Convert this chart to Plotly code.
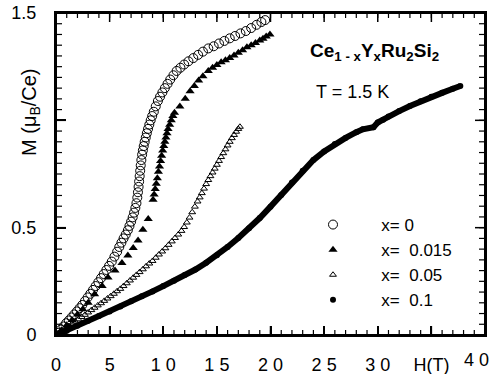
import plotly.graph_objects as go

# ---- data ----
h_x0 = [0.0, 0.2, 0.45, 0.7, 0.95, 1.2, 1.45, 1.7, 1.95, 2.2, 2.45, 2.7, 2.95, 3.2, 3.45, 3.7, 3.95, 4.2, 4.45,
        4.7, 4.95, 5.2, 5.45, 5.7, 5.9, 6.1, 6.3, 6.5, 6.7, 6.85, 7.0, 7.15, 7.28, 7.4, 7.5, 7.58, 7.64, 7.7, 7.75,
        7.8, 7.85, 7.9, 7.96, 8.03, 8.1, 8.18, 8.27, 8.37, 8.47, 8.58, 8.7, 8.83, 8.97, 9.12, 9.3, 9.5, 9.7, 9.92,
        10.15, 10.4, 10.65, 10.95, 11.25, 11.6, 11.95, 12.35, 12.8, 13.25, 13.7, 14.2, 14.7, 15.2, 15.7, 16.2,
        16.7, 17.2, 17.7, 18.2, 18.7, 19.15, 19.5]
m_x0 = [0.0, 0.01, 0.025, 0.04, 0.055, 0.068, 0.082, 0.096, 0.11, 0.125, 0.14, 0.158, 0.175, 0.192, 0.21, 0.228,
        0.246, 0.265, 0.284, 0.303, 0.322, 0.342, 0.365, 0.388, 0.41, 0.43, 0.45, 0.468, 0.488, 0.508, 0.528,
        0.548, 0.57, 0.592, 0.614, 0.64, 0.665, 0.69, 0.715, 0.74, 0.765, 0.79, 0.815, 0.84, 0.86, 0.88, 0.9,
        0.92, 0.94, 0.96, 0.98, 1.0, 1.02, 1.04, 1.065, 1.09, 1.11, 1.13, 1.15, 1.17, 1.19, 1.21, 1.23, 1.245,
        1.26, 1.275, 1.29, 1.305, 1.32, 1.335, 1.345, 1.358, 1.37, 1.382, 1.393, 1.405, 1.416, 1.43, 1.445,
        1.458, 1.467]

h_x015 = [0.0, 0.5, 1.0, 1.5, 2.0, 2.5, 3.0, 3.6, 4.3, 4.85, 5.5, 6.15, 6.7, 7.2, 7.65, 8.1, 8.6, 9.05, 9.15,
          9.25, 9.35, 9.45, 9.55, 9.65, 9.75, 9.85, 9.95, 10.05, 10.15, 10.25, 10.35, 10.45, 10.6, 10.75, 10.9,
          11.05, 11.55, 12.05, 12.5, 12.9, 13.3, 13.7, 14.2, 14.6, 15.0, 15.4, 15.8, 16.2, 16.6, 17.0, 17.4,
          17.8, 18.2, 18.6, 19.0, 19.3, 19.6, 19.95]
m_x015 = [0.0, 0.022, 0.045, 0.07, 0.095, 0.12, 0.15, 0.19, 0.228, 0.268, 0.3, 0.335, 0.37, 0.405, 0.44, 0.49,
          0.54, 0.63, 0.655, 0.68, 0.705, 0.73, 0.76, 0.785, 0.81, 0.835, 0.86, 0.88, 0.9, 0.92, 0.94, 0.96,
          0.98, 1.0, 1.02, 1.035, 1.065, 1.10, 1.135, 1.16, 1.185, 1.205, 1.23, 1.245, 1.258, 1.27, 1.28, 1.29,
          1.302, 1.315, 1.327, 1.34, 1.35, 1.36, 1.372, 1.38, 1.39, 1.40]

h_x05 = [0.0, 0.3, 0.6, 0.9, 1.2, 1.5, 1.8, 2.1, 2.4, 2.7, 3.0, 3.3, 3.6, 3.9, 4.2, 4.5, 4.8, 5.1, 5.4, 5.7,
         6.0, 6.3, 6.6, 6.9, 7.2, 7.5, 7.8, 8.1, 8.4, 8.7, 9.0, 9.3, 9.6, 9.9, 10.2, 10.5, 10.8, 11.1, 11.4,
         11.7, 11.95, 12.2, 12.45, 12.7, 12.95, 13.2, 13.4, 13.6, 13.8, 14.0, 14.2, 14.4, 14.6, 14.8, 15.0,
         15.2, 15.4, 15.6, 15.8, 16.0, 16.2, 16.4, 16.6, 16.8, 17.0, 17.15]
m_x05 = [0.0, 0.01, 0.021, 0.031, 0.042, 0.052, 0.063, 0.073, 0.084, 0.094, 0.105, 0.116, 0.127, 0.138, 0.148,
         0.159, 0.17, 0.181, 0.192, 0.204, 0.215, 0.228, 0.241, 0.254, 0.267, 0.28, 0.293, 0.306, 0.32, 0.333,
         0.345, 0.36, 0.375, 0.389, 0.404, 0.42, 0.436, 0.452, 0.468, 0.485, 0.503, 0.524, 0.547, 0.572, 0.598,
         0.622, 0.641, 0.661, 0.682, 0.703, 0.722, 0.74, 0.757, 0.775, 0.793, 0.811, 0.829, 0.847, 0.865, 0.883,
         0.9, 0.917, 0.932, 0.947, 0.96, 0.97]

h_x1 = [0, 1, 2, 3, 4, 5, 6, 7, 8, 9, 10, 11, 12, 13, 14, 15, 16, 17, 18, 19, 20, 21, 22, 23, 24, 25, 26, 27,
        28, 28.6, 29.6, 30.0, 30.5, 31, 32, 33, 34, 35, 36, 37, 37.7]
m_x1 = [0.0, 0.02, 0.043, 0.066, 0.088, 0.11, 0.133, 0.157, 0.18, 0.203, 0.228, 0.253, 0.28, 0.305, 0.337,
        0.372, 0.41, 0.452, 0.497, 0.545, 0.598, 0.652, 0.71, 0.765, 0.815, 0.855, 0.89, 0.918, 0.945, 0.958,
        0.968, 0.99, 1.003, 1.018, 1.043, 1.067, 1.089, 1.11, 1.128, 1.147, 1.16]

NB = "\u00a0"
series_names = ["x=" + NB + "0", "x=" + NB * 2 + "0.015", "x=" + NB * 2 + "0.05", "x=" + NB * 2 + "0.1"]
x_tickvals = [0, 5, 10, 15, 20, 25, 30, 35, 40]
x_ticktext = ["0", "5", "1" + NB + "0", "1" + NB + "5", "2" + NB + "0", "2" + NB + "5", "3" + NB + "0",
              "H(T)", ""]
x_last_label = "4" + NB + "0"
y_tickvals = [0, 0.5, 1.0, 1.5]
y_ticktext = ["0", "0.5", "", "1.5"]
x_range = [0, 40]
y_range = [0, 1.5]
x_minor_step = 1
y_minor_step = 0.05

FONT = "Liberation Sans, Arial, sans-serif"
L, R, T, B = 56, 9, 13, 39
PW, PH = 494 - L - R, 374 - T - B


def px(xp):
    return (xp - L) / PW


def py(yp):
    return (374 - B - yp) / PH


pad = NB * 6
x_minor = [x_range[0] + i * x_minor_step
           for i in range(int(round((x_range[1] - x_range[0]) / x_minor_step)) + 1)]
y_minor = [round(y_range[0] + i * y_minor_step, 4)
           for i in range(int(round((y_range[1] - y_range[0]) / y_minor_step)) + 1)]

fig = go.Figure()

# data series
fig.add_trace(go.Scatter(x=h_x0, y=m_x0, mode="markers", name=pad + series_names[0],
                         marker=dict(symbol="circle-open", size=9, color="black", line=dict(width=1))))
fig.add_trace(go.Scatter(x=h_x015, y=m_x015, mode="markers", name=pad + series_names[1],
                         marker=dict(symbol="triangle-up", size=8, color="black")))
fig.add_trace(go.Scatter(x=h_x05, y=m_x05, mode="markers", name=pad + series_names[2],
                         marker=dict(symbol="triangle-up-open", size=6, color="black", line=dict(width=1))))
fig.add_trace(go.Scatter(x=h_x1, y=m_x1, mode="lines", showlegend=False,
                         line=dict(color="black", width=6)))
fig.add_trace(go.Scatter(x=h_x1, y=m_x1, mode="markers", name=pad + series_names[3],
                         marker=dict(symbol="circle", size=6, color="black")))

# frame: filled thin rectangles anchored on the axis ranges (pixel thickness)
shapes = []
for yv in y_range:
    shapes.append(dict(type="rect", xref="x", yref="y", x0=x_range[0], x1=x_range[1],
                       ysizemode="pixel", yanchor=yv, y0=-1, y1=1,
                       fillcolor="black", line=dict(width=0)))
for xv in x_range:
    shapes.append(dict(type="rect", xref="x", yref="y", y0=y_range[0], y1=y_range[1],
                       xsizemode="pixel", xanchor=xv, x0=-1, x1=1,
                       fillcolor="black", line=dict(width=0)))


# inward ticks on all four sides
def xticks(vals, length, half_w):
    out = []
    for v in vals:
        out.append(dict(type="rect", xref="x", yref="y", xsizemode="pixel", ysizemode="pixel",
                        xanchor=v, yanchor=y_range[0], x0=-half_w, x1=half_w, y0=0, y1=length,
                        fillcolor="black", line=dict(width=0)))
        out.append(dict(type="rect", xref="x", yref="y", xsizemode="pixel", ysizemode="pixel",
                        xanchor=v, yanchor=y_range[1], x0=-half_w, x1=half_w, y0=-length, y1=0,
                        fillcolor="black", line=dict(width=0)))
    return out


def yticks(vals, length, half_w):
    out = []
    for v in vals:
        out.append(dict(type="rect", xref="x", yref="y", xsizemode="pixel", ysizemode="pixel",
                        xanchor=x_range[0], yanchor=v, x0=0, x1=length, y0=-half_w, y1=half_w,
                        fillcolor="black", line=dict(width=0)))
        out.append(dict(type="rect", xref="x", yref="y", xsizemode="pixel", ysizemode="pixel",
                        xanchor=x_range[1], yanchor=v, x0=-length, x1=0, y0=-half_w, y1=half_w,
                        fillcolor="black", line=dict(width=0)))
    return out


shapes += xticks(x_minor, 5, 0.6) + xticks(x_tickvals, 9, 0.75)
shapes += yticks(y_minor, 6, 0.6) + yticks(y_tickvals, 10, 0.75)

fig.add_annotation(text="<b>Ce<sub>1 - x</sub>Y<sub>x</sub>Ru<sub>2</sub>Si<sub>2</sub></b>",
                   xref="paper", yref="paper", x=px(374), y=py(52), xanchor="center", yanchor="middle",
                   showarrow=False, font=dict(family=FONT, size=19, color="black"))
fig.add_annotation(text="T = 1.5 K", xref="paper", yref="paper", x=px(352), y=py(92),
                   xanchor="center", yanchor="middle",
                   showarrow=False, font=dict(family=FONT, size=18, color="black"))
fig.add_annotation(text="M (μ<sub>B</sub>/Ce)", xref="paper", yref="paper", x=px(31),
                   y=py(112), textangle=-90, showarrow=False, xanchor="center", yanchor="middle",
                   font=dict(family=FONT, size=20, color="black"))
fig.add_annotation(text=x_last_label, xref="paper", yref="paper", x=px(476), y=py(360),
                   xanchor="center", yanchor="middle", showarrow=False,
                   font=dict(family=FONT, size=18, color="black"))

fig.update_layout(
    width=494, height=374,
    margin=dict(l=L, r=R, t=T, b=B, autoexpand=False),
    paper_bgcolor="white", plot_bgcolor="white",
    font=dict(family=FONT, size=18, color="black"),
    showlegend=True,
    shapes=shapes,
    legend=dict(x=px(313), y=py(207), xanchor="left", yanchor="top",
                bgcolor="rgba(0,0,0,0)", font=dict(family=FONT, size=17), tracegroupgap=0),
    xaxis=dict(range=x_range, showgrid=False, zeroline=False, showline=True, linecolor="#000000",
               linewidth=2, mirror=True, ticks="inside", ticklen=9, tickwidth=1.5, tickcolor="#000000",
               tickmode="array", tickvals=x_tickvals, ticktext=x_ticktext, ticklabelstandoff=12,
               automargin=False),
    yaxis=dict(range=y_range, showgrid=False, zeroline=False, showline=True, linecolor="#000000",
               linewidth=2, mirror=True, ticks="inside", ticklen=10, tickwidth=1.5, tickcolor="#000000",
               tickmode="array", tickvals=y_tickvals, ticktext=y_ticktext, ticklabelstandoff=14,
               automargin=False),
)

fig.write_html("out.html")
